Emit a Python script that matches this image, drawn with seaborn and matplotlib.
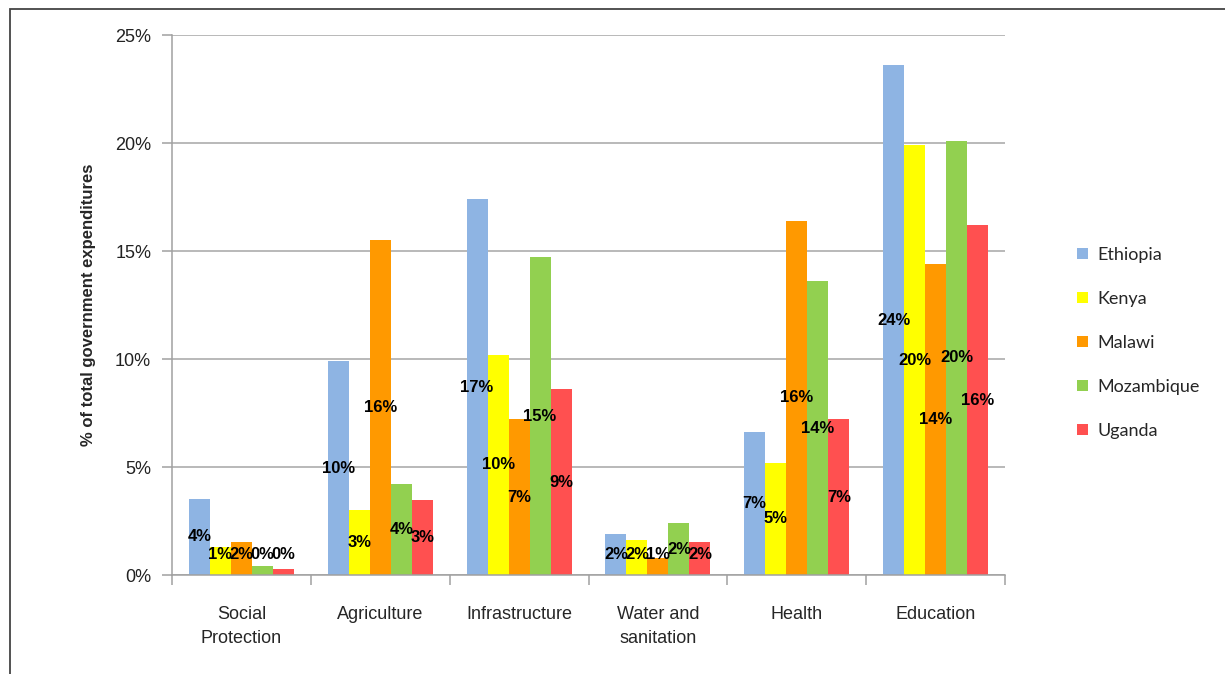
import matplotlib
matplotlib.use("Agg")
import matplotlib.pyplot as plt
import seaborn as sns
import pandas as pd
import numpy as np
from matplotlib.patches import Rectangle
from matplotlib.ticker import FixedLocator, FuncFormatter

categories = ["Social\nProtection", "Agriculture", "Infrastructure",
              "Water and\nsanitation", "Health", "Education"]
countries = ["Ethiopia", "Kenya", "Malawi", "Mozambique", "Uganda"]
ethiopia = [3.52, 9.9, 17.4, 1.9, 6.6, 23.6]
kenya = [1.3, 3.0, 10.2, 1.6, 5.2, 19.9]
malawi = [1.55, 15.5, 7.2, 0.8, 16.4, 14.4]
mozambique = [0.42, 4.2, 14.7, 2.4, 13.6, 20.1]
uganda = [0.3, 3.45, 8.6, 1.52, 7.2, 16.2]
series = [ethiopia, kenya, malawi, mozambique, uganda]
colors = ["#8EB4E3", "#FFFF00", "#FF9900", "#92D050", "#FF5050"]
yticks = [0, 5, 10, 15, 20, 25]

rows = []
for c, vals in zip(countries, series):
    for cat, v in zip(categories, vals):
        rows.append({"category": cat, "country": c, "value": v})
df = pd.DataFrame(rows)

sns.set_style("white")
plt.rcParams["font.family"] = ["Liberation Sans", "DejaVu Sans"]

fig = plt.figure(figsize=(12.25, 6.74), dpi=100)
ax = fig.add_axes([172/1225, 1-575/674, (1005-172)/1225, (575-35)/674])

sns.barplot(data=df, x="category", y="value", hue="country", order=categories,
            hue_order=countries, palette=colors, width=0.757, saturation=1,
            edgecolor="none", linewidth=0, ax=ax, legend=True)

# centred value labels, kept inside the plot area like the original
for cont, vals in zip(ax.containers, series):
    for patch, v in zip(cont.patches, vals):
        xc = patch.get_x() + patch.get_width() / 2
        yc = max(patch.get_height() / 2, 0.95)
        ax.text(xc, yc, f"{int(np.floor(v + 0.5))}%", ha="center", va="center",
                fontsize=12, fontweight="bold", color="black")

ax.set_ylim(0, 25)
ax.set_xlim(-0.5, len(categories) - 0.5)
ax.yaxis.set_major_locator(FixedLocator(yticks))
ax.yaxis.set_major_formatter(FuncFormatter(lambda v, p: f"{int(v)}%"))
ax.grid(axis="y", color="#A6A6A6", linewidth=1.1)
ax.set_axisbelow(True)
for s in ["top", "right"]:
    ax.spines[s].set_visible(False)
for s in ["left", "bottom"]:
    ax.spines[s].set_color("#A0A0A0")
    ax.spines[s].set_linewidth(1.1)

ax.tick_params(axis="y", which="major", length=7, width=1.1, color="#A0A0A0",
               labelsize=13, labelcolor="#222222", pad=8, left=True)
ax.set_xticks(range(len(categories)))
ax.set_xticklabels(categories, fontsize=13, linespacing=1.6)
ax.set_xticks(np.arange(-0.5, len(categories)), minor=True)
ax.tick_params(axis="x", which="major", length=0, pad=22)
ax.tick_params(axis="x", which="minor", length=7, width=1.1, color="#A0A0A0", bottom=True)

ax.set_xlabel("")
ax.set_ylabel("% of total government expenditures", fontsize=12, fontweight="bold",
              labelpad=14)

h, l = ax.get_legend_handles_labels()
ax.get_legend().remove()
fig.legend(h, l, loc="center left", bbox_to_anchor=(1061/1225, 1-343/674),
           frameon=False, handlelength=0.6, handleheight=0.6,
           handletextpad=0.5, labelspacing=1.55,
           prop={"family": ["Lato", "DejaVu Sans"], "size": 13})

fig.add_artist(Rectangle((10/1225, -0.1), 1.2, 1.1 - 9/674,
                         transform=fig.transFigure, fill=False,
                         edgecolor="#444444", linewidth=1.3, clip_on=False))

fig.savefig("out.png", dpi=100, facecolor="white")
